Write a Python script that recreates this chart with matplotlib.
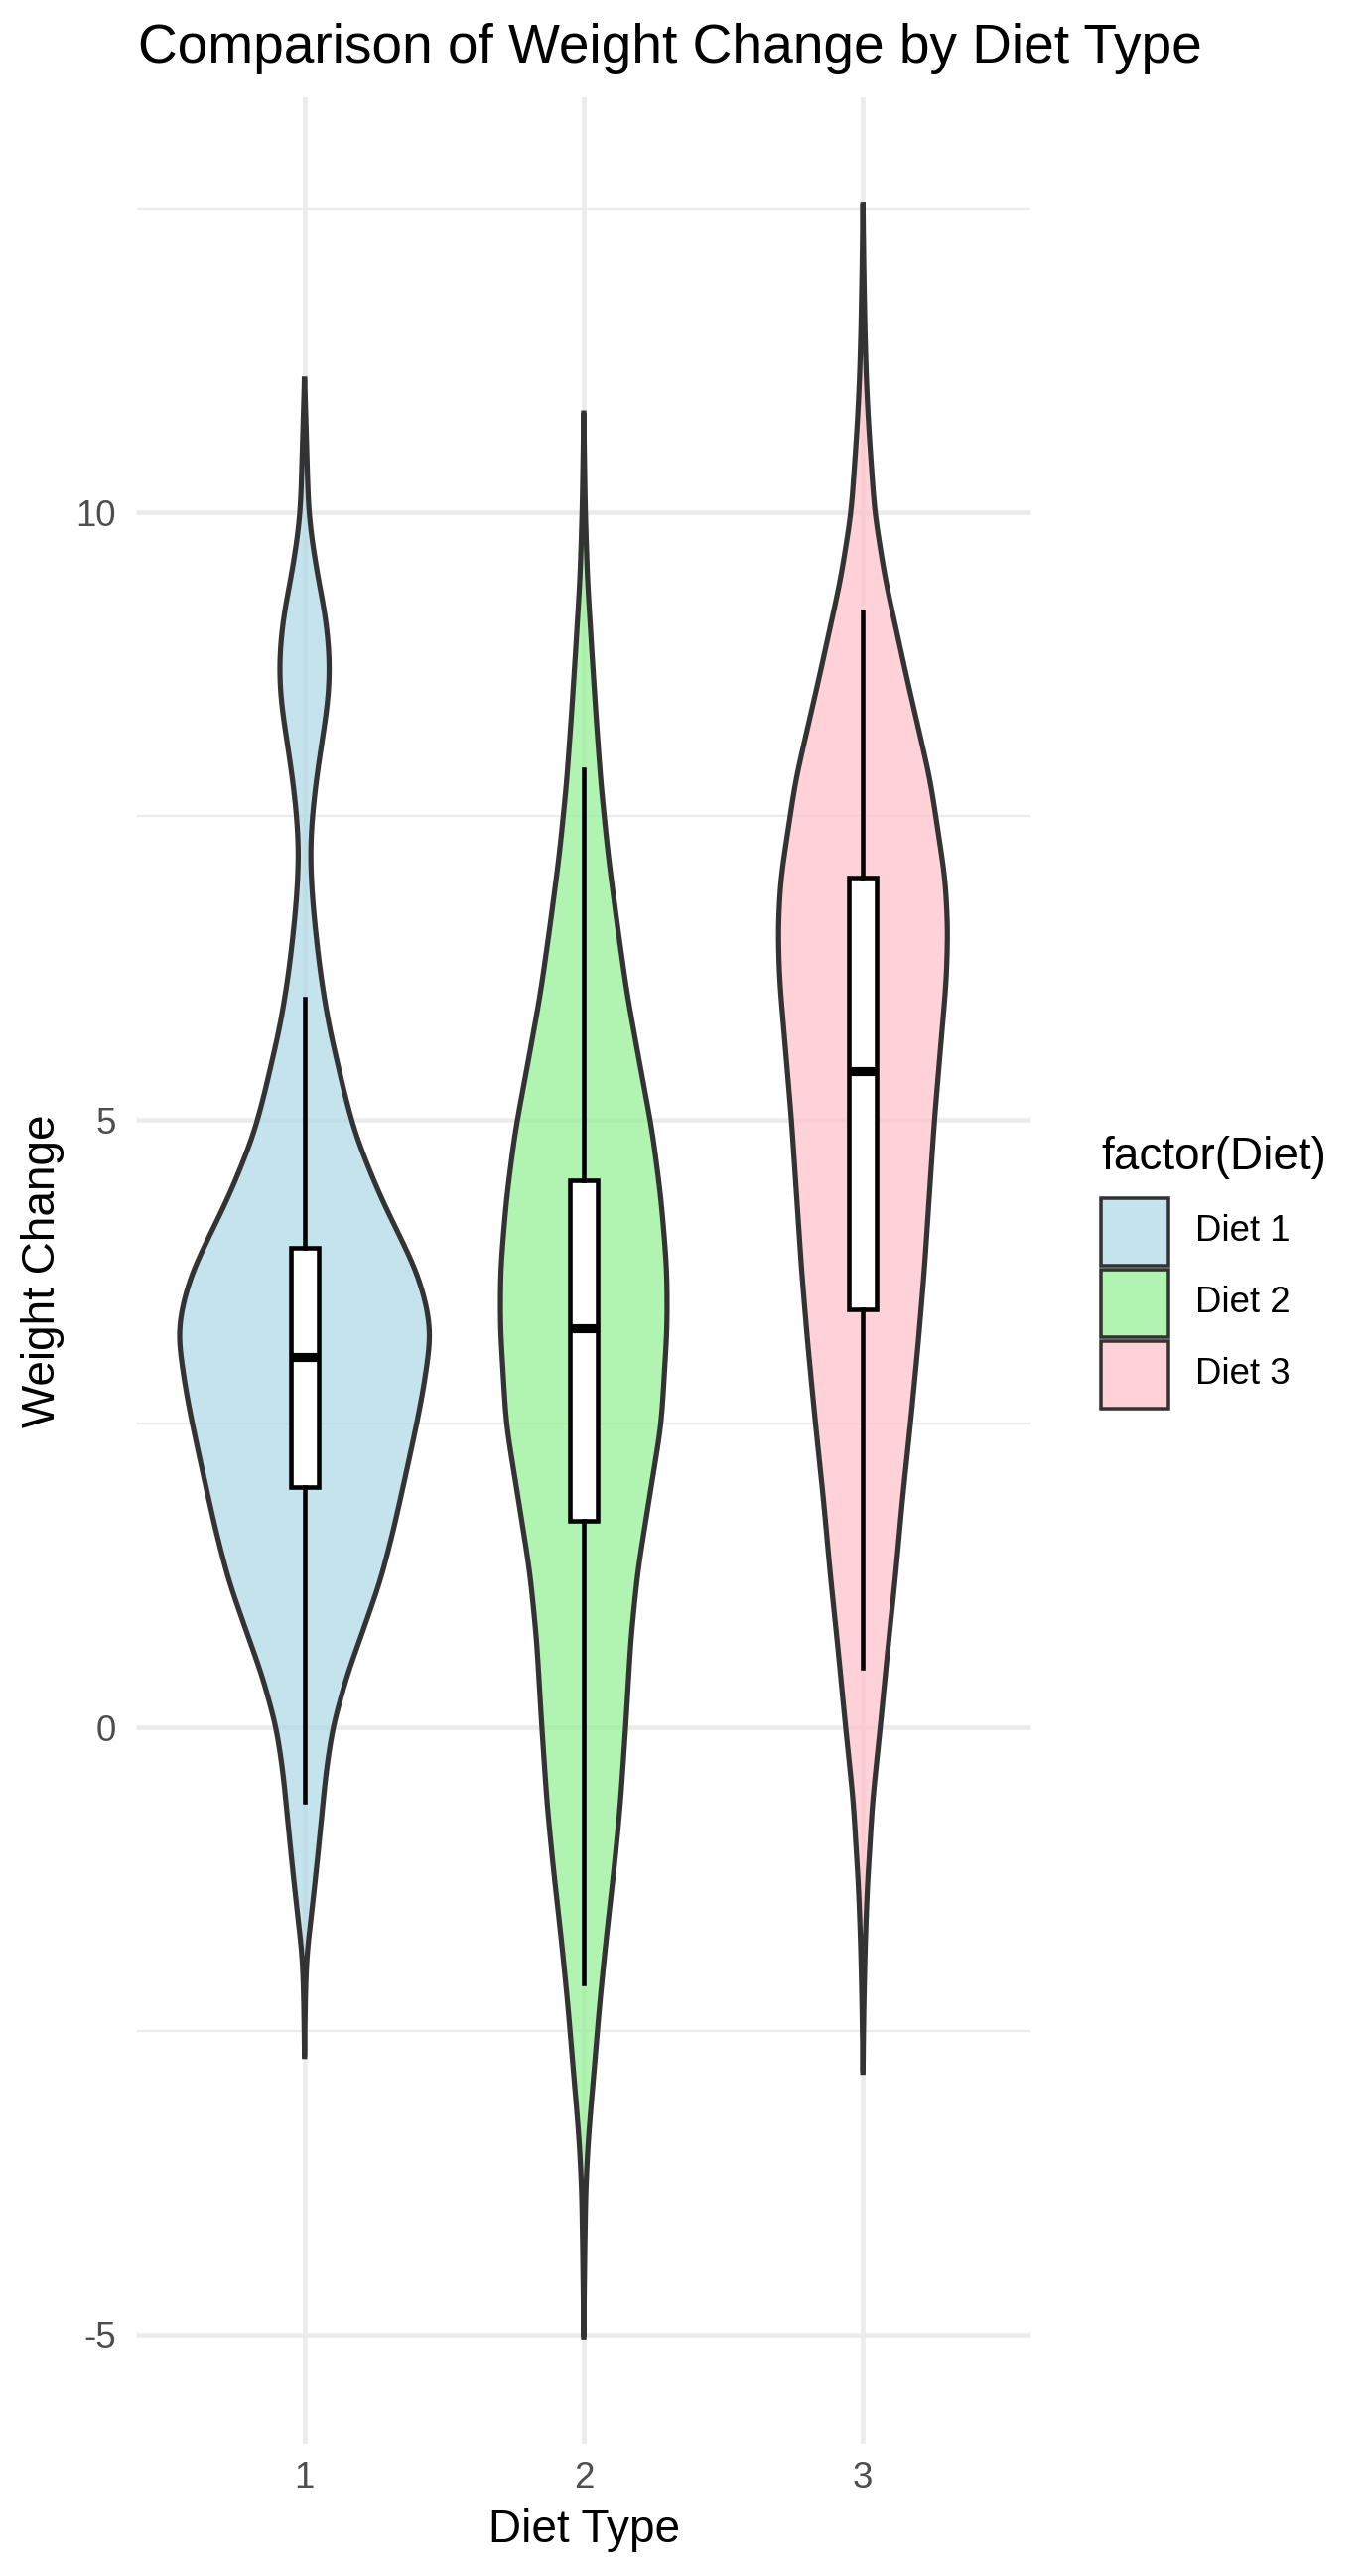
import matplotlib
matplotlib.use('Agg')
import matplotlib.pyplot as plt
from matplotlib.patches import Rectangle
from matplotlib.colors import to_rgba
import numpy as np

plt.rcParams['font.family'] = ['Liberation Sans', 'DejaVu Sans']
plt.rcParams['axes.unicode_minus'] = False

diets = [1, 2, 3]
labels = ['Diet 1', 'Diet 2', 'Diet 3']
fills = ['#ADD8E6', '#90EE90', '#FFC0CB']

# violin outlines: weight change and half width (x units)
d1_y = [11.10, 10.9, 10.5, 10.05, 9.8, 9.47, 9.19, 8.95, 8.73, 8.5, 8.33, 8.0, 7.76, 7.45,
        7.19, 6.9, 6.61, 6.3, 6.04, 5.75, 5.47, 5.2, 4.90, 4.6, 4.33, 4.05, 3.76, 3.50,
        3.30, 3.19, 2.80, 2.5, 2.0, 1.61, 1.21, 0.82, 0.42, 0.0, -0.37, -0.77, -1.16,
        -1.56, -1.88, -2.2, -2.71]
d1_w = [0.0, 0.003, 0.008, 0.014, 0.025, 0.048, 0.072, 0.085, 0.090, 0.086, 0.077, 0.055,
        0.040, 0.026, 0.021, 0.026, 0.037, 0.052, 0.068, 0.09, 0.118, 0.145, 0.18, 0.23,
        0.28, 0.34, 0.40, 0.435, 0.45, 0.451, 0.427, 0.402, 0.355, 0.317, 0.272, 0.213,
        0.151, 0.101, 0.077, 0.060, 0.043, 0.024, 0.008, 0.003, 0.0]

d2_y = [10.82, 10.5, 10.05, 9.47, 8.90, 8.33, 7.76, 7.19, 6.61, 6.04, 5.47, 4.90, 4.33,
        3.76, 3.3, 2.5, 1.83, 1.28, 0.73, 0.0, -0.64, -1.18, -1.73, -2.28, -2.83, -3.37,
        -3.81, -4.4, -5.02]
d2_w = [0.0, 0.002, 0.005, 0.013, 0.028, 0.044, 0.062, 0.087, 0.12, 0.155, 0.20, 0.246,
        0.278, 0.298, 0.299, 0.278, 0.231, 0.193, 0.169, 0.150, 0.131, 0.108, 0.081, 0.057,
        0.037, 0.017, 0.007, 0.003, 0.0]

d3_y = [12.54, 12.0, 11.51, 11.10, 10.69, 10.0, 9.45, 8.63, 7.80, 6.98, 6.57, 6.16, 5.65,
        5.0, 4.39, 3.77, 3.14, 2.5, 1.89, 1.26, 0.64, 0.0, -0.62, -0.90, -1.3, -1.79, -2.3,
        -2.84]
d3_w = [0.0, 0.003, 0.007, 0.012, 0.021, 0.042, 0.080, 0.158, 0.241, 0.295, 0.304, 0.299,
        0.280, 0.256, 0.238, 0.220, 0.197, 0.170, 0.142, 0.117, 0.089, 0.062, 0.034, 0.027,
        0.016, 0.008, 0.003, 0.0]

# box plot stats
box_lo = [-0.61, -2.11, 0.49]
box_q1 = [1.98, 1.70, 3.44]
box_med = [3.05, 3.29, 5.40]
box_q3 = [3.95, 4.50, 7.00]
box_hi = [6.00, 7.89, 9.19]

W, H, DPI = 1379, 2595, 300
fig = plt.figure(figsize=(W / DPI, H / DPI), dpi=DPI)
ax = fig.add_axes([138 / W, 1 - 2462 / H, 900 / W, 2364 / H])


def outline(ys, ws):
    ys = np.asarray(ys)[::-1]
    ws = np.asarray(ws)[::-1]
    yy = np.linspace(ys[0], ys[-1], 800)
    ww = np.interp(yy, ys, ws)
    k = np.exp(-0.5 * (np.arange(-20, 21) / 7.0) ** 2)
    k /= k.sum()
    ww = np.convolve(np.pad(ww, 20, mode='edge'), k, mode='valid')
    return yy, ww


for x, ys, ws, c in zip(diets, [d1_y, d2_y, d3_y], [d1_w, d2_w, d3_w], fills):
    yy, ww = outline(ys, ws)
    ax.fill(np.concatenate([x - ww, (x + ww)[::-1]]), np.concatenate([yy, yy[::-1]]),
            facecolor=to_rgba(c, 0.7), edgecolor='#333333', lw=1.25, zorder=2)

stats = [dict(whislo=a, q1=b, med=m, q3=d, whishi=e, fliers=[])
         for a, b, m, d, e in zip(box_lo, box_q1, box_med, box_q3, box_hi)]
ax.bxp(stats, positions=diets, widths=0.1, showcaps=False, patch_artist=True,
       boxprops=dict(facecolor='white', edgecolor='black', lw=1.1),
       whiskerprops=dict(color='black', lw=1.1),
       medianprops=dict(color='black', lw=2.2, solid_capstyle='butt'),
       zorder=3)

ax.set_xlim(0.4, 3.6)
ax.set_ylim(-5.9, 13.42)
ax.set_xticks(diets)
ax.set_xticklabels([str(d) for d in diets])
ax.set_yticks([-5, 0, 5, 10])
ax.set_yticks([-2.5, 2.5, 7.5, 12.5], minor=True)
ax.grid(which='major', color='#EBEBEB', lw=1.1)
ax.grid(which='minor', axis='y', color='#EBEBEB', lw=0.55)
ax.set_axisbelow(True)
for s in ax.spines.values():
    s.set_visible(False)
ax.tick_params(which='both', length=0, labelsize=8.8, labelcolor='#4D4D4D')
ax.tick_params(axis='y', pad=5)
ax.tick_params(axis='x', pad=4)

fig.text(139 / W, 1 - 63 / H, 'Comparison of Weight Change by Diet Type', fontsize=13.2,
         ha='left', va='baseline')
fig.text(588 / W, 1 - 2561 / H, 'Diet Type', fontsize=11, ha='center', va='baseline')
fig.text(43 / W, 1 - 1280 / H, 'Weight Change', fontsize=11, rotation=90,
         ha='center', va='center')

# legend
fig.text(1109 / W, 1 - 1178 / H, 'factor(Diet)', fontsize=11, ha='left', va='baseline')
for i, (lab, c) in enumerate(zip(labels, fills)):
    top = 1207 + 72 * i
    fig.patches.append(Rectangle((1109 / W, 1 - (top + 68) / H), 68 / W, 68 / H,
                                 transform=fig.transFigure, facecolor=to_rgba(c, 0.7),
                                 edgecolor='#333333', lw=0.85))
    fig.text(1204 / W, 1 - (top + 34) / H, lab, fontsize=8.8, ha='left', va='center')

fig.savefig('out.png', dpi=DPI)
